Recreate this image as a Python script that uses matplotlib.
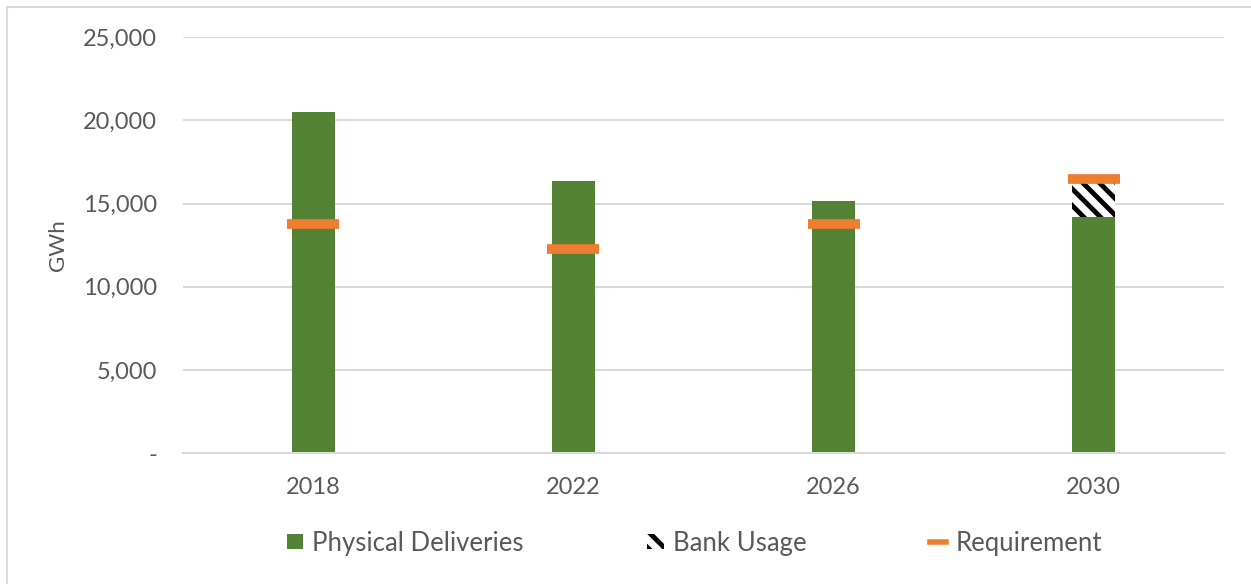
import matplotlib
matplotlib.use("Agg")
import matplotlib.pyplot as plt
from matplotlib.patches import Patch, Rectangle
from matplotlib.lines import Line2D
from matplotlib.ticker import FuncFormatter

years = ["2018", "2022", "2026", "2030"]
physical = [20500, 16350, 15150, 14200]
bank = [0, 0, 0, 2250]
requirement = [13800, 12250, 13750, 16450]

GREEN = "#548235"
ORANGE = "#ED7D31"
TEXT = "#595959"
GRID = "#D9D9D9"

plt.rcParams["font.family"] = ["Lato", "DejaVu Sans"]
plt.rcParams["hatch.linewidth"] = 3.5

fig = plt.figure(figsize=(12.51, 5.84), dpi=100)
ax = fig.add_axes([0.1463, 0.2238, 0.8321, 0.7128])

# outer chart border (top and left visible)
fig.patches.append(Rectangle((7 / 1251, -0.1), 1.2, (584 - 7) / 584 + 0.1,
                             transform=fig.transFigure, fill=False,
                             edgecolor="#D9D9D9", linewidth=1.5))

x = list(range(len(years)))
w = 0.165
ax.bar(x, physical, width=w, color=GREEN, zorder=2)
ax.bar(x, bank, width=w, bottom=physical, color="white", edgecolor="black",
       hatch="\\\\", linewidth=0, zorder=2)
ax.plot(x, requirement, linestyle="none", marker="_", markersize=37.5,
        markeredgewidth=7, color=ORANGE, zorder=3)

ax.set_xlim(-0.5, len(years) - 0.5)
ax.set_ylim(0, 25000)
ax.set_yticks(range(0, 25001, 5000))
ax.yaxis.set_major_formatter(FuncFormatter(lambda v, p: "-" if v == 0 else f"{int(v):,}"))
ax.set_xticks(x)
ax.set_xticklabels(years)
ax.grid(axis="y", color=GRID, linewidth=1.5, zorder=0)
ax.set_axisbelow(True)
for side in ["top", "right", "left"]:
    ax.spines[side].set_visible(False)
ax.spines["bottom"].set_color(GRID)
ax.spines["bottom"].set_linewidth(1.5)
ax.tick_params(axis="both", length=0, labelsize=17, colors=TEXT)
ax.tick_params(axis="y", pad=18.5)
ax.tick_params(axis="x", pad=17)
ax.set_ylabel("GWh", fontsize=16, color=TEXT, labelpad=11)

handles = [
    Patch(facecolor=GREEN, edgecolor="none"),
    Patch(facecolor="white", edgecolor="black", hatch="\\\\", linewidth=0),
    Line2D([], [], color=ORANGE, linewidth=4),
]
leg = fig.legend(handles, ["Physical Deliveries", "Bank Usage", "Requirement"],
                 loc="center", bbox_to_anchor=(0.555, 1 - 543 / 584), ncol=3,
                 frameon=False, fontsize=18.5, handlelength=0.65, handleheight=0.55,
                 handletextpad=0.35, columnspacing=4.8, labelcolor=TEXT)

fig.savefig("out.png", dpi=100)
